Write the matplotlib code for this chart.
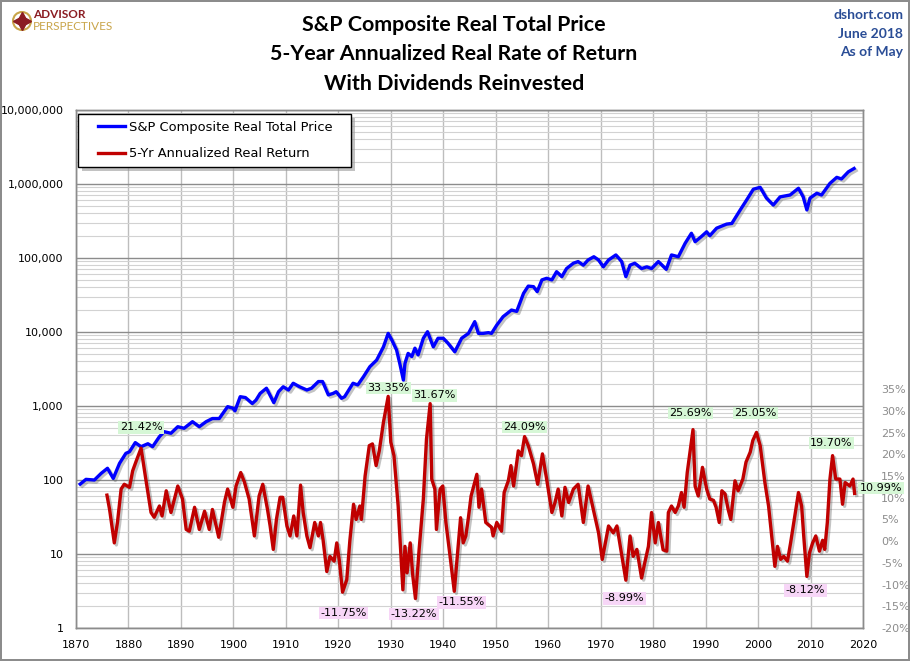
"""
S&P Composite real total price with 5-year annualized real return.
"""
import matplotlib.pyplot as plt
import matplotlib.patheffects as pe
from matplotlib.lines import Line2D
from matplotlib.patches import Ellipse, Rectangle, Shadow
from matplotlib.ticker import FixedLocator, FuncFormatter, NullFormatter

# S&P Composite real total price (dividends reinvested)
price_years = [1870.8, 1871.9, 1873.5, 1874.8, 1876.0, 1877.1, 1878.3, 1879.5, 1880.2, 1881.3,
               1882.4, 1883.7, 1884.6, 1885.9, 1886.8, 1888.1, 1889.4, 1890.6, 1892.2, 1893.5,
               1894.8, 1896.0, 1897.3, 1898.9, 1899.9, 1900.3, 1901.3, 1902.3, 1903.6, 1904.3,
               1905.1, 1906.3, 1907.7, 1908.6, 1909.5, 1910.5, 1911.4, 1912.6, 1914.0, 1914.9,
               1916.2, 1917.0, 1918.1, 1919.0, 1919.6, 1920.6, 1921.2, 1922.8, 1923.7, 1924.8,
               1926.0, 1927.3, 1928.6, 1929.5, 1930.2, 1931.1, 1931.7, 1932.4, 1932.7, 1933.3,
               1934.0, 1934.6, 1935.2, 1936.2, 1937.0, 1938.1, 1939.0, 1940.0, 1940.9, 1942.2,
               1943.5, 1944.8, 1946.0, 1946.7, 1947.6, 1948.6, 1949.2, 1950.2, 1951.4, 1953.0,
               1954.0, 1955.3, 1956.2, 1957.2, 1957.9, 1958.8, 1959.7, 1960.7, 1961.6, 1962.6,
               1963.5, 1964.8, 1965.7, 1966.7, 1967.6, 1968.7, 1969.6, 1970.5, 1971.5, 1972.9,
               1974.0, 1974.8, 1975.6, 1976.5, 1977.8, 1978.8, 1979.7, 1981.0, 1982.5, 1983.5,
               1984.8, 1986.1, 1987.3, 1988.0, 1989.2, 1990.2, 1990.8, 1992.1, 1994.0, 1995.0,
               1996.6, 1997.8, 1999.1, 2000.4, 2001.6, 2002.9, 2004.2, 2006.1, 2007.7, 2008.6,
               2009.3, 2009.9, 2011.2, 2012.1, 2013.7, 2015.0, 2015.9, 2017.2, 2018.3]
price_values = [88, 102, 100, 123, 144, 105, 168, 229, 241, 320,
                282, 309, 282, 385, 450, 428, 525, 500, 614, 525,
                614, 677, 677, 980, 935, 860, 1336, 1300, 1080, 1200,
                1480, 1738, 1110, 1560, 1820, 1645, 2030, 1820, 1645, 1740,
                2140, 2140, 1410, 1480, 1560, 1270, 1336, 2030, 1925, 2490,
                3390, 4170, 6300, 9580, 7780, 5710, 3780, 2240, 3780, 5140,
                4660, 6040, 4900, 8230, 10100, 6300, 8230, 8230, 7050, 5400,
                8230, 9580, 13800, 9580, 9580, 9800, 9580, 12400, 16100, 19800,
                19000, 33300, 41700, 41000, 35100, 50600, 53200, 50600, 65300, 56000,
                72000, 85000, 89500, 80000, 94000, 104000, 94000, 76000, 94000, 110000,
                89500, 56000, 80000, 85000, 72000, 76000, 72000, 89500, 70300, 110000,
                104000, 158000, 216000, 166000, 195000, 226000, 200000, 253000, 287000, 293000,
                446000, 605000, 850000, 902000, 645000, 520000, 670000, 710000, 875000, 670000,
                446000, 645000, 750000, 710000, 1020000, 1230000, 1170000, 1460000, 1620000]

# 5-year annualized real return, percent
ret_years = [1875.9, 1876.4, 1877.3, 1877.9, 1878.6, 1879.2, 1880.2, 1880.8, 1881.4, 1882.4,
             1883.3, 1884.3, 1884.9, 1885.9, 1886.4, 1887.2, 1888.1, 1889.4, 1890.3, 1891.0,
             1891.6, 1892.6, 1893.5, 1894.5, 1895.4, 1896.0, 1897.2, 1898.3, 1898.9, 1899.9,
             1900.5, 1901.4, 1902.1, 1903.0, 1904.0, 1904.9, 1905.6, 1906.5, 1907.0, 1907.6,
             1908.2, 1908.9, 1909.4, 1910.2, 1910.8, 1911.5, 1912.1, 1912.8, 1913.3, 1914.0,
             1914.6, 1915.5, 1916.2, 1916.6, 1917.1, 1917.8, 1918.4, 1919.2, 1919.7, 1920.2,
             1920.8, 1921.6, 1922.2, 1922.9, 1923.4, 1924.1, 1924.4, 1925.1, 1925.9, 1926.5,
             1927.2, 1927.8, 1928.6, 1929.5, 1930.0, 1930.6, 1931.4, 1932.3, 1932.7, 1933.1,
             1933.7, 1934.2, 1934.7, 1935.4, 1936.2, 1936.8, 1937.5, 1937.8, 1938.4, 1938.7,
             1939.4, 1939.9, 1940.5, 1941.3, 1942.1, 1942.9, 1943.3, 1943.8, 1944.3, 1944.8,
             1945.3, 1946.4, 1946.8, 1947.3, 1948.1, 1949.2, 1949.5, 1950.2, 1951.1, 1951.6,
             1952.4, 1952.9, 1953.4, 1954.3, 1954.9, 1955.5, 1956.2, 1957.2, 1958.0, 1958.9,
             1959.7, 1960.7, 1961.3, 1961.9, 1962.6, 1963.2, 1963.9, 1964.8, 1965.7, 1966.7,
             1967.6, 1968.6, 1969.6, 1970.3, 1971.5, 1972.4, 1973.1, 1974.0, 1974.8, 1975.6,
             1976.2, 1976.9, 1977.8, 1978.4, 1979.1, 1979.7, 1980.4, 1981.0, 1981.9, 1982.6,
             1982.9, 1983.5, 1984.2, 1984.8, 1985.4, 1985.9, 1986.5, 1987.1, 1987.6, 1988.0,
             1988.6, 1989.4, 1990.2, 1990.8, 1991.5, 1992.0, 1992.6, 1993.1, 1993.7, 1994.3,
             1994.8, 1995.6, 1996.2, 1997.1, 1997.7, 1998.5, 1999.0, 1999.7, 2000.4, 2001.3,
             2002.0, 2002.6, 2003.2, 2003.7, 2004.3, 2004.9, 2005.6, 2006.2, 2006.8, 2007.7,
             2008.3, 2008.7, 2009.3, 2009.8, 2010.4, 2011.0, 2011.7, 2012.3, 2012.7, 2013.2,
             2013.7, 2014.2, 2014.8, 2015.6, 2016.1, 2016.6, 2017.5, 2018.1, 2018.4]
ret_values = [10.6, 7.3, -0.4, 4.3, 12.0, 13.1, 12.4, 16.2, 18.2, 21.42,
              14.3, 6.6, 5.5, 8.1, 5.8, 11.6, 6.6, 12.7, 9.7, 2.7,
              2.3, 7.8, 2.7, 6.9, 2.7, 7.3, 0.9, 9.0, 12.0, 7.8,
              12.7, 15.8, 13.6, 9.7, 1.2, 10.4, 13.1, 7.3, 3.5, -1.9,
              5.0, 10.1, 10.1, 3.5, 1.2, 5.8, 1.2, 12.9, 6.6, 1.2,
              -1.5, 4.3, 1.2, 4.3, 0.2, -7.0, -3.5, -4.6, -0.4, -4.6,
              -11.75, -8.9, 0.2, 8.5, 5.0, 8.1, 5.0, 15.0, 22.0, 22.4,
              17.4, 20.8, 27.4, 33.35, 22.8, 19.7, 8.1, -11.2, -1.2, -7.3,
              -0.4, -8.1, -13.22, -1.9, 9.7, 23.5, 31.67, 14.3, 12.0, 2.7,
              12.0, 12.7, 4.3, -3.5, -11.55, -0.4, 5.4, -0.4, 1.2, 5.5,
              10.4, 15.4, 7.8, 12.0, 4.3, 3.2, 1.2, 4.3, 2.3, 11.2,
              13.9, 17.4, 12.7, 20.8, 19.7, 24.09, 22.0, 17.8, 13.1, 20.1,
              14.3, 6.6, 8.9, 12.0, 5.8, 12.4, 8.9, 12.0, 13.1, 4.3,
              12.7, 7.3, 1.9, -4.2, 3.5, 1.9, 3.5, -3.1, -8.99, 1.2,
              -3.5, -1.9, -8.5, -5.0, -1.2, 6.6, -0.4, 4.3, -2.0, -2.3,
              6.6, 8.1, 6.6, 8.1, 11.2, 7.8, 15.8, 21.2, 25.69, 12.7,
              10.4, 17.0, 12.0, 9.7, 9.4, 7.8, 4.3, 11.6, 10.9, 7.3,
              5.0, 13.9, 11.6, 14.3, 18.2, 20.5, 23.2, 25.05, 22.0, 13.5,
              8.1, 1.2, -5.8, -1.2, -4.2, -3.5, -4.6, -0.4, 4.3, 11.2,
              8.1, 1.2, -8.12, -2.7, -0.4, 1.2, -2.3, 0.2, -1.9, 4.3,
              14.3, 19.70, 14.3, 14.3, 8.5, 13.5, 12.7, 14.3, 10.99]

# labelled peaks and troughs of the return series
peak_years = [1882.4, 1929.5, 1937.5, 1920.8, 1934.7, 1942.1, 1955.5,
              1974.8, 1987.6, 1999.7, 2014.2, 2009.3, 2018.4]
peak_values = [21.42, 33.35, 31.67, -11.75, -13.22, -11.55, 24.09,
               -8.99, 25.69, 25.05, 19.70, -8.12, 10.99]
# label offsets from the point, in points
peak_offsets = [(0, 15), (0, 6), (3, 6), (1, -15), (-1, -11), (5, -8), (0, 7),
                (-1, -13), (-2, 12), (-1, 14), (-1, 9), (-1, -10), (19, 4)]

left_ticks = [1, 10, 100, 1000, 10000, 100000, 1000000, 10000000]
right_ticks = [-20, -15, -10, -5, 0, 5, 10, 15, 20, 25, 30, 35]
year_ticks = list(range(1870, 2021, 10))

W, H = 910, 661
fig = plt.figure(figsize=(W / 100, H / 100), dpi=100)
fig.patch.set_edgecolor('#8c8c8c')
fig.patch.set_linewidth(1.5)

ax = fig.add_axes([76 / W, 33 / H, 787 / W, 518 / H])
ax2 = ax.twinx()

shadow = [pe.SimpleLineShadow(offset=(1.5, -1.5), shadow_color='#555555', alpha=0.35),
          pe.Normal()]

ax.plot(price_years, price_values, color='#0000ff', lw=2.4, solid_joinstyle='round',
        path_effects=shadow, zorder=3)
ax2.plot(ret_years, ret_values, color='#c00000', lw=2.4, solid_joinstyle='round',
         path_effects=shadow, zorder=3)

# left (log) axis
ax.set_yscale('log')
ax.set_ylim(1, 1e7)
ax.set_xlim(1870, 2020)
ax.xaxis.set_major_locator(FixedLocator(year_ticks))
ax.yaxis.set_major_locator(FixedLocator(left_ticks))
ax.yaxis.set_minor_locator(FixedLocator([d * m for d in left_ticks[:-1] for m in range(2, 10)]))
ax.yaxis.set_minor_formatter(NullFormatter())
ax.yaxis.set_major_formatter(FuncFormatter(lambda v, p: f'{v:,.0f}'))
ax.grid(True, which='major', axis='y', color='#8c8c8c', lw=1.0)
ax.grid(True, which='minor', axis='y', color='#d2d2d2', lw=0.8)
ax.grid(True, which='major', axis='x', color='#bdbdbd', lw=1.0)
ax.set_axisbelow(True)
ax.tick_params(axis='y', which='both', length=0, labelsize=8, pad=9)
ax.tick_params(axis='x', length=0, labelsize=8, pad=9)

# right (percent) axis
ax2.set_ylim(-20, 99.3)
ax2.yaxis.set_major_locator(FixedLocator(right_ticks))
ax2.yaxis.set_major_formatter(FuncFormatter(lambda v, p: f'{v:.0f}%'))
ax2.tick_params(axis='y', length=0, labelsize=8, pad=13, labelcolor='#8c8c8c')

for a in (ax, ax2):
    for s in a.spines.values():
        s.set_color('#8c8c8c')
        s.set_linewidth(1.0)

# peak / trough labels
for yr, val, off in zip(peak_years, peak_values, peak_offsets):
    fc = '#d6f7d6' if val > 0 else '#f7d6f7'
    ax2.annotate(f'{val:.2f}%', xy=(yr, val), xytext=off, textcoords='offset points',
                 ha='center', va='center', fontsize=8, color='black', zorder=5,
                 bbox=dict(boxstyle='square,pad=0.12', fc=fc, ec='none'))

# legend box with drop shadow, legend entries drawn on top
box = Rectangle((78 / W, 1 - 167 / H), 273 / W, 53 / H, transform=fig.transFigure,
                fc='white', ec='black', lw=1.0, zorder=10)
box_shadow = Shadow(box, 3 / W, -3 / H, fc='#9a9a9a', ec='none', alpha=0.6, zorder=9)
fig.add_artist(box_shadow)
fig.add_artist(box)
handles = [Line2D([], [], color='#0000ff', lw=2.4), Line2D([], [], color='#c00000', lw=2.4)]
leg = fig.legend(handles, ['S&P Composite Real Total Price', '5-Yr Annualized Real Return'],
                 loc='upper left', bbox_to_anchor=(98 / W, 1 - 121 / H),
                 borderaxespad=0, borderpad=0, fontsize=9.4, frameon=False,
                 handlelength=2.1, handletextpad=0.25, labelspacing=1.02)
leg.set_zorder(11)

# titles
title_lines = ['S&P Composite Real Total Price',
               '5-Year Annualized Real Rate of Return',
               'With Dividends Reinvested']
for i, t in enumerate(title_lines):
    fig.text(454 / W, 1 - (25 + 29.5 * i) / H, t, ha='center', va='center',
             fontsize=15.4, fontweight='bold', family=['Lato', 'DejaVu Sans'])

for i, t in enumerate(['dshort.com', 'June 2018', 'As of May']):
    fig.text(903 / W, 1 - (15 + 18.5 * i) / H, t, ha='right', va='center',
             fontsize=10, fontweight='bold', color='#2a4d96', family=['Lato', 'DejaVu Sans'])

# logo
fig.add_artist(Ellipse((22 / W, 1 - 21 / H), 18 / W, 18 / H, fill=False,
                       ec='#c9a54a', lw=1.5, transform=fig.transFigure))
fig.add_artist(Line2D([22 / W], [1 - 21 / H], marker=(4, 1, 0), ms=13, color='#8b1c22',
                      transform=fig.transFigure))
fig.text(33 / W, 1 - 15 / H, 'ADVISOR', ha='left', va='center', fontsize=8.5,
         fontweight='bold', color='#8b1c22', family=['Lato', 'DejaVu Sans'])
fig.text(33 / W, 1 - 27 / H, 'PERSPECTIVES', ha='left', va='center', fontsize=8.5,
         color='#c9a54a', family=['Lato', 'DejaVu Sans'])

fig.savefig('out.png', dpi=100)
